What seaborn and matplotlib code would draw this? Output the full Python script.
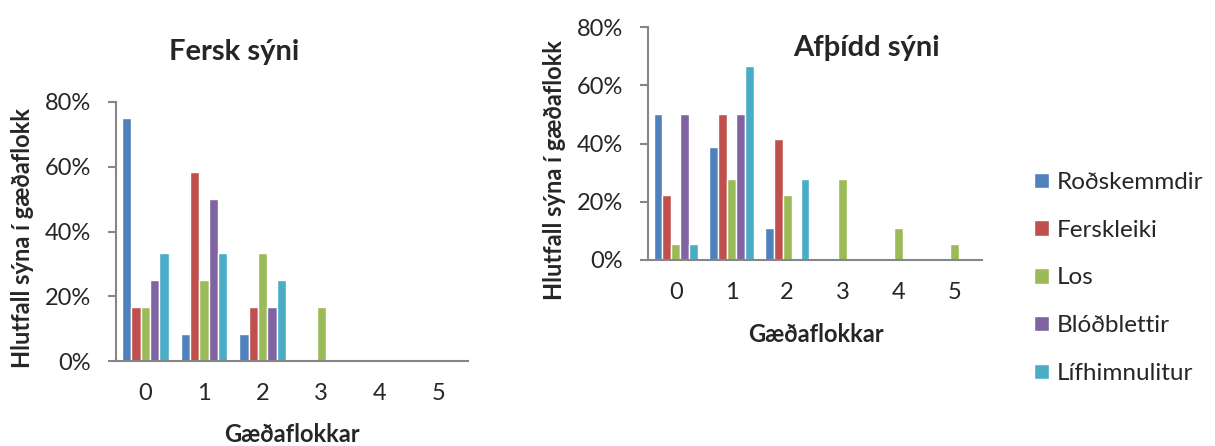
import matplotlib
matplotlib.use("Agg")
import matplotlib.pyplot as plt
from matplotlib.ticker import PercentFormatter, FixedLocator
from matplotlib.patches import Patch
import seaborn as sns
import pandas as pd

# Quality classes and defect types
categories = ["0", "1", "2", "3", "4", "5"]
defects = ["Roðskemmdir", "Ferskleiki", "Los", "Blóðblettir", "Lífhimnulitur"]

# Share of samples in each quality class (fresh samples)
fresh_rodskemmdir = [0.75, 0.083, 0.083, 0.0, 0.0, 0.0]
fresh_ferskleiki = [0.167, 0.583, 0.167, 0.0, 0.0, 0.0]
fresh_los = [0.167, 0.25, 0.333, 0.167, 0.0, 0.0]
fresh_blodblettir = [0.25, 0.50, 0.167, 0.0, 0.0, 0.0]
fresh_lifhimnulitur = [0.333, 0.333, 0.25, 0.0, 0.0, 0.0]

# Share of samples in each quality class (thawed samples)
thawed_rodskemmdir = [0.50, 0.389, 0.111, 0.0, 0.0, 0.0]
thawed_ferskleiki = [0.222, 0.50, 0.417, 0.0, 0.0, 0.0]
thawed_los = [0.056, 0.278, 0.222, 0.278, 0.111, 0.056]
thawed_blodblettir = [0.50, 0.50, 0.0, 0.0, 0.0, 0.0]
thawed_lifhimnulitur = [0.056, 0.667, 0.278, 0.0, 0.0, 0.0]

colors = ["#4F81BD", "#C0504D", "#9BBB59", "#8064A2", "#4BACC6"]

sns.set_theme(style="white")
plt.rcParams["font.family"] = ["Lato", "DejaVu Sans"]


def long_frame(series):
    rows = []
    for name, vals in zip(defects, series):
        for cat, v in zip(categories, vals):
            rows.append({"flokkur": cat, "galli": name, "hlutfall": v})
    return pd.DataFrame(rows)


fresh = long_frame([fresh_rodskemmdir, fresh_ferskleiki, fresh_los,
                    fresh_blodblettir, fresh_lifhimnulitur])
thawed = long_frame([thawed_rodskemmdir, thawed_ferskleiki, thawed_los,
                     thawed_blodblettir, thawed_lifhimnulitur])

W, H = 1215, 446
fig = plt.figure(figsize=(W / 100, H / 100), dpi=100)

ax1 = fig.add_axes([116 / W, (H - 361) / H, 352 / W, 259 / H])
ax2 = fig.add_axes([648 / W, (H - 260) / H, 334 / W, 233 / H])

axis_color = "#868686"
label_size = 17
tick_size = 17

for ax, df in ((ax1, fresh), (ax2, thawed)):
    sns.barplot(data=df, x="flokkur", y="hlutfall", hue="galli",
                order=categories, hue_order=defects, palette=colors,
                width=0.8, ax=ax, legend=False, saturation=1)
    ax.set_xlim(-0.5, 5.5)
    ax.set_ylim(0, 0.8)
    ax.yaxis.set_major_locator(FixedLocator([0, 0.2, 0.4, 0.6, 0.8]))
    ax.yaxis.set_major_formatter(PercentFormatter(1.0, decimals=0))
    ax.set_xticks(range(len(categories)))
    ax.set_xticklabels(categories)
    ax.set_xticks([i - 0.5 for i in range(len(categories) + 1)], minor=True)
    ax.tick_params(axis="x", which="major", length=0, pad=16,
                   labelsize=tick_size)
    ax.tick_params(axis="x", which="minor", length=6, width=1.5,
                   color=axis_color, direction="out")
    ax.tick_params(axis="y", which="major", length=6, width=1.5,
                   color=axis_color, direction="out", labelsize=tick_size,
                   pad=12, left=True)
    for s in ("top", "right"):
        ax.spines[s].set_visible(False)
    for s in ("left", "bottom"):
        ax.spines[s].set_color(axis_color)
        ax.spines[s].set_linewidth(1.5)
    ax.set_xlabel("Gæðaflokkar", fontsize=label_size, fontweight="bold",
                  va="center")
    ax.set_ylabel("Hlutfall sýna í gæðaflokk", fontsize=label_size,
                  fontweight="bold", va="center")

ax1.xaxis.set_label_coords(0.5, (361 - 434) / 259)
ax1.yaxis.set_label_coords((22 - 116) / 352, (361 - 238) / 259)
ax2.xaxis.set_label_coords((816 - 648) / 334, (260 - 334) / 233)
ax2.yaxis.set_label_coords((555 - 648) / 334, (260 - 170) / 233)

fig.text(234 / W, 1 - 60 / H, "Fersk sýni", fontsize=21,
         fontweight="bold", ha="center", va="baseline")
fig.text(866 / W, 1 - 56 / H, "Afþídd sýni", fontsize=21,
         fontweight="bold", ha="center", va="baseline")

handles = [Patch(facecolor=c, label=n) for c, n in zip(colors, defects)]
fig.legend(handles=handles, loc="center left",
           bbox_to_anchor=(1034 / W, 1 - 278 / H), frameon=False,
           fontsize=17.5, handlelength=0.6, handleheight=0.6,
           handletextpad=0.35, labelspacing=1.1, borderpad=0,
           borderaxespad=0)

fig.savefig("out.png", dpi=100)
